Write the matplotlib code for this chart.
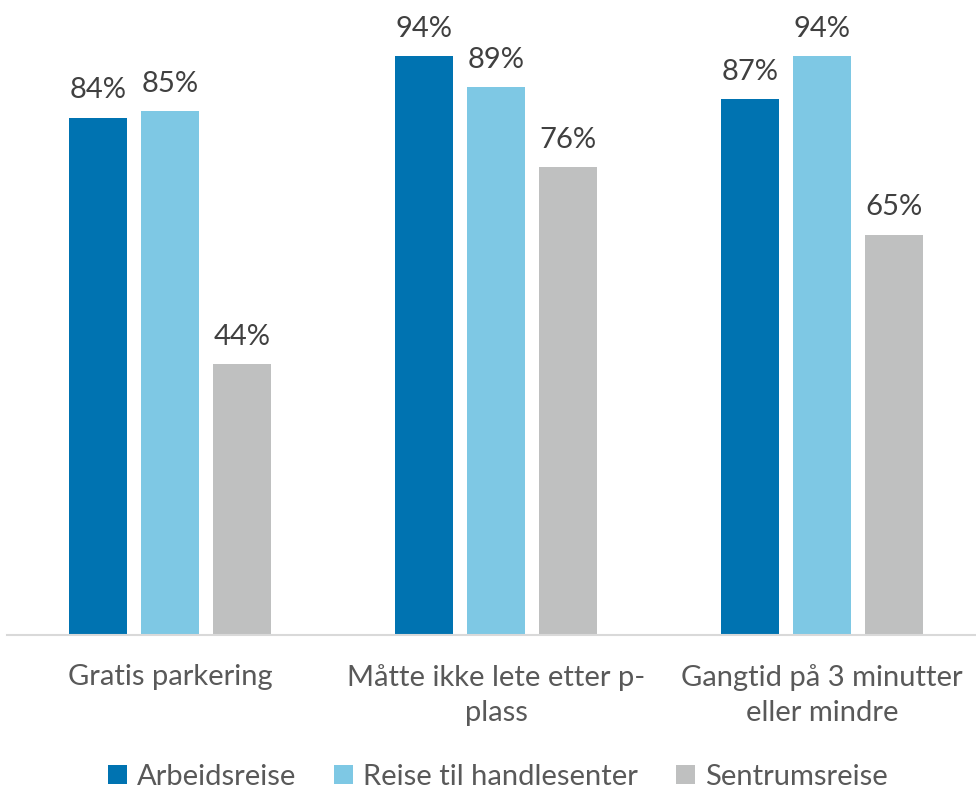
import numpy as np
import matplotlib.pyplot as plt
from matplotlib.patches import Patch

plt.rcParams['font.family'] = ['Lato', 'DejaVu Sans']

categories = ['Gratis parkering', 'Måtte ikke lete etter p-\nplass', 'Gangtid på 3 minutter\neller mindre']
series_names = ['Arbeidsreise', 'Reise til handlesenter', 'Sentrumsreise']
arbeidsreise = [84, 94, 87]
handlesenter = [85, 89, 94]
sentrumsreise = [44, 76, 65]
colors = ['#0073B1', '#7EC8E4', '#BFC0C0']

fig = plt.figure(figsize=(9.76, 7.9), dpi=100)
ax = fig.add_axes([7 / 976, 0.196, 978 / 976, 0.78])

x = np.arange(len(categories))
width = 0.178
step = 0.221
handles = []
for i, (vals, name, col) in enumerate(zip([arbeidsreise, handlesenter, sentrumsreise], series_names, colors)):
    bars = ax.bar(x + (i - 1) * step, vals, width, color=col)
    for b, v in zip(bars, vals):
        ax.text(b.get_x() + b.get_width() / 2, v + 2.3, f'{v}%', ha='center', va='bottom',
                fontsize=21, color='#404040')
    handles.append(Patch(facecolor=col, label=name))

ax.set_xlim(-0.5, 2.5)
ax.set_ylim(0, 100)
ax.set_yticks([])
ax.set_xticks(x)
ax.set_xticklabels(categories, fontsize=21, color='#595959', linespacing=1.4, va='top')
ax.tick_params(axis='x', length=0, pad=21)
for s in ['top', 'right', 'left']:
    ax.spines[s].set_visible(False)
ax.spines['bottom'].set_color('#D9D9D9')
ax.spines['bottom'].set_linewidth(1.5)

fig.legend(handles=handles, loc='center', bbox_to_anchor=(0.51, 1 - 777 / 790), ncol=3, frameon=False,
           fontsize=21, handlelength=0.65, handleheight=0.65, handletextpad=0.35, columnspacing=1.3,
           labelcolor='#595959')

fig.savefig('out.png', dpi=100)
